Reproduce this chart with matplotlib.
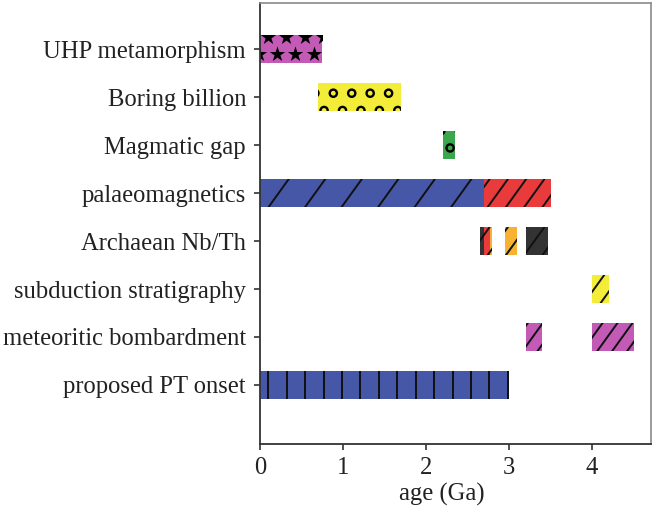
import numpy as np
import matplotlib
matplotlib.use("Agg")
import matplotlib.pyplot as plt

plt.rcParams['font.family'] = ['Liberation Serif', 'DejaVu Serif']

# rows from bottom to top
row_labels = ['proposed PT onset', 'meteoritic bombardment', 'subduction stratigraphy',
              'Archaean Nb/Th', 'palaeomagnetics', 'Magmatic gap', 'Boring billion',
              'UHP metamorphism']

# interval bars (age in Ga)
bar_row = [7, 6, 5, 4, 4, 3, 3, 3, 3, 3, 2, 1, 1, 0]
bar_start = [0.0, 0.7, 2.2, 0.0, 2.7, 2.65, 2.70, 2.77, 2.95, 3.2, 4.0, 3.2, 4.0, 0.0]
bar_end = [0.75, 1.7, 2.35, 2.7, 3.5, 2.70, 2.77, 2.80, 3.1, 3.47, 4.2, 3.4, 4.5, 3.0]

MAG, YEL, GRN, BLU, RED, ORA, DRK = '#c25ab6', '#f3ec38', '#3ba64c', '#4657a7', '#e93b3b', '#f8b232', '#333333'
bar_color = [MAG, YEL, GRN, BLU, RED, DRK, RED, ORA, ORA, DRK, YEL, MAG, MAG, BLU]
# fill pattern: ('star'|'ring', x anchor, y offset) or ('line', spacing, run)
bar_hatch = [('star', 0.205, -0.10), ('ring', 0.883, 0.08), ('ring', 2.29, -0.06),
             ('line', 0.44, 0.25), ('line', 0.22, 0.25), ('line', 0.22, 0.25),
             ('line', 0.22, 0.25), ('line', 0.22, 0.25), ('line', 0.22, 0.25),
             ('line', 0.22, 0.25), ('line', 0.2, 0.25), ('line', 0.18, 0.25),
             ('line', 0.18, 0.25), ('line', 0.222, 0.0)]

fig = plt.figure(figsize=(6.54, 5.09), dpi=100)
ax = fig.add_axes([260 / 654, 65 / 509, 391 / 654, 441 / 509])


def line_hatch(ax, patch, spacing, run, phase=0.1):
    x0, y0 = patch.get_x(), patch.get_y()
    w, h = patch.get_width(), patch.get_height()
    k0 = int(np.floor((x0 - run - phase) / spacing)) - 1
    k1 = int(np.ceil((x0 + w - phase) / spacing)) + 1
    for k in range(k0, k1 + 1):
        xb = phase + k * spacing
        ln, = ax.plot([xb, xb + run], [y0, y0 + h], color='#111111', lw=1.4,
                      solid_capstyle='butt')
        ln.set_clip_path(patch)


def marker_hatch(ax, patch, kind, x_anchor, y_off, dx=0.222, dy=0.36):
    x0, y0 = patch.get_x(), patch.get_y()
    w, h = patch.get_width(), patch.get_height()
    yc = y0 + h / 2
    xs, ys = [], []
    for j in range(-2, 3):
        shift = x_anchor + (j % 2) * dx / 2
        k0 = int(np.floor((x0 - dx - shift) / dx))
        k1 = int(np.ceil((x0 + w + dx - shift) / dx))
        for k in range(k0, k1 + 1):
            xs.append(shift + k * dx)
            ys.append(yc + y_off - j * dy)
    if kind == 'star':
        sc = ax.scatter(xs, ys, marker='*', s=135, color='black', linewidths=0)
    else:
        sc = ax.scatter(xs, ys, marker='o', s=27, facecolors='none',
                        edgecolors='black', linewidths=1.7)
    sc.set_clip_path(patch)


for r, s, e, c, hs in zip(bar_row, bar_start, bar_end, bar_color, bar_hatch):
    bars = ax.barh(r, e - s, left=s, height=0.6, color=c, linewidth=0)
    if hs[0] == 'line':
        line_hatch(ax, bars[0], hs[1], hs[2])
    else:
        marker_hatch(ax, bars[0], hs[0], hs[1], hs[2])

ax.set_xlim(0, 4.71)
ax.set_ylim(-1.23, 7.96)
ax.set_yticks(range(len(row_labels)))
ax.set_yticklabels(row_labels)
ax.set_xticks([0, 1, 2, 3, 4])
ax.tick_params(axis='both', labelsize=17.7, colors='#333333', labelcolor='#222222',
               length=4, width=1.2)
ax.tick_params(axis='y', pad=6)
ax.tick_params(axis='x', pad=5)

ax.set_xlabel('age (Ga)', fontsize=17.7, color='#222222')
ax.xaxis.set_label_coords(182 / 391, -0.088)

for side in ['left', 'bottom']:
    ax.spines[side].set_color('#333333')
    ax.spines[side].set_linewidth(1.3)
for side in ['top', 'right']:
    ax.spines[side].set_color('#8a8a8a')
    ax.spines[side].set_linewidth(1.2)

fig.savefig('out.png', dpi=100)
